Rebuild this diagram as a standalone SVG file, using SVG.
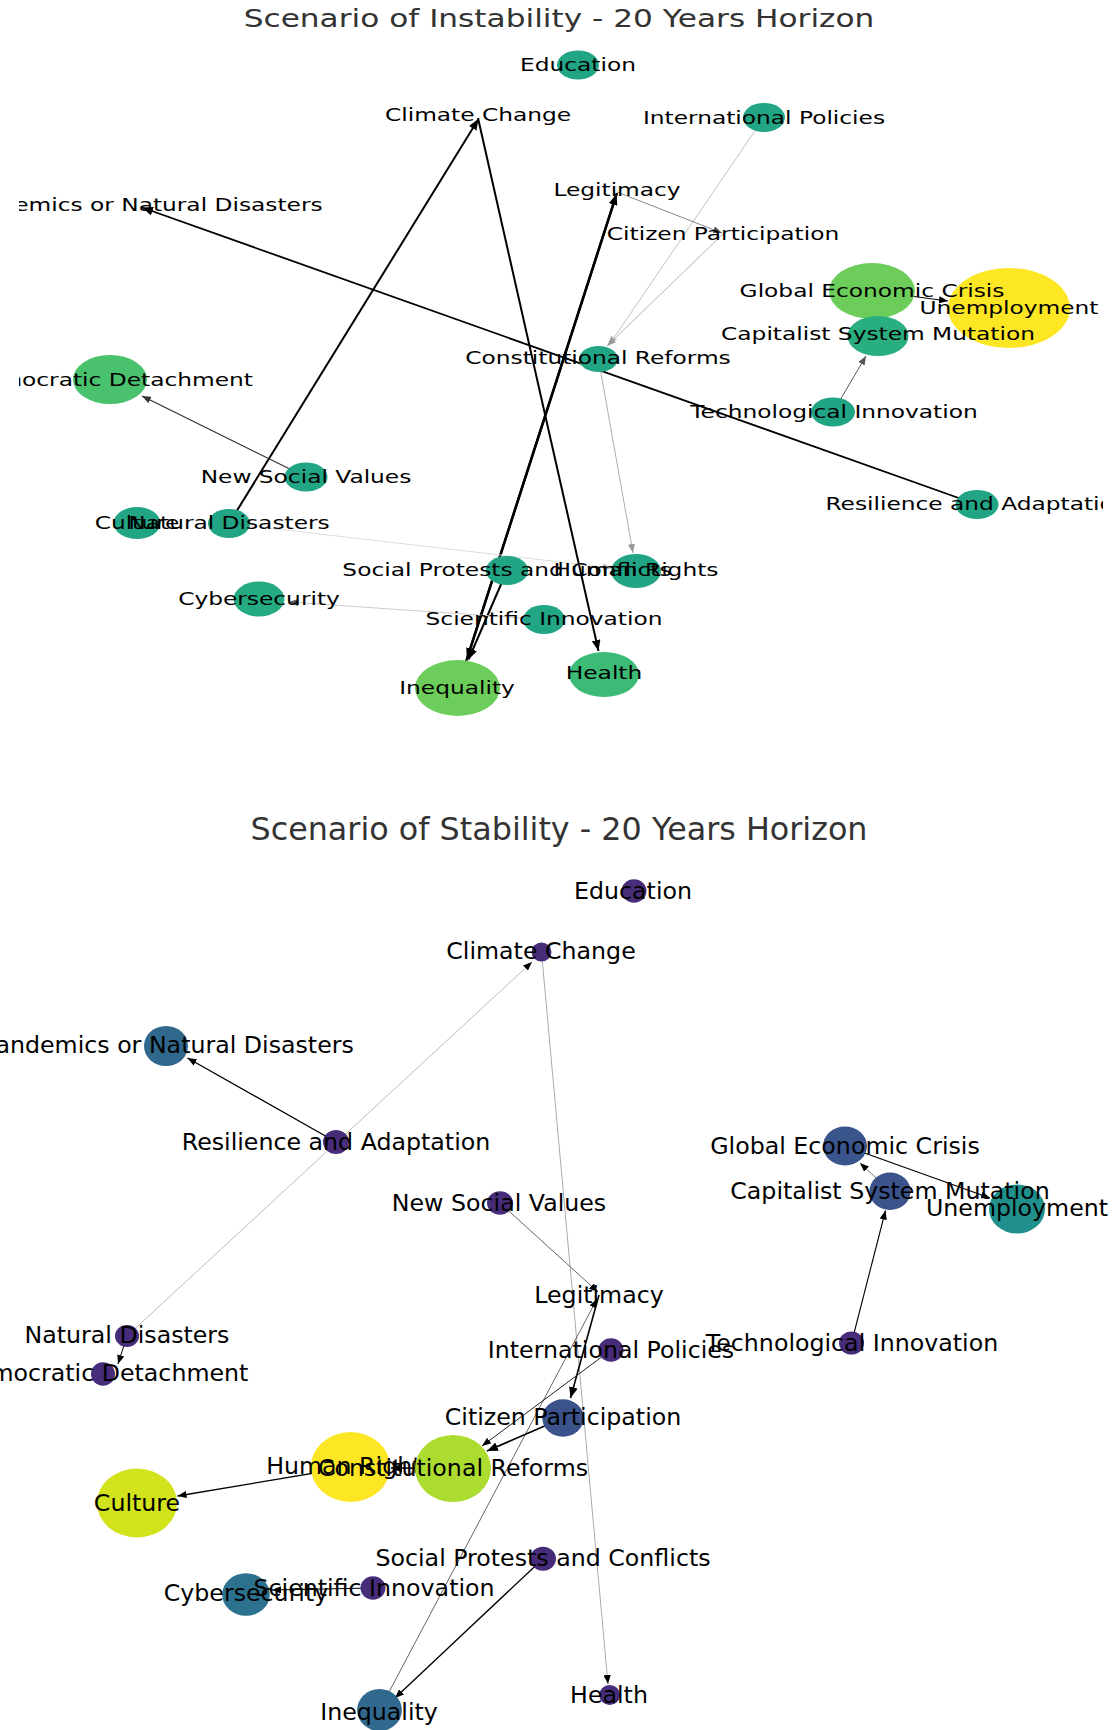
<svg xmlns="http://www.w3.org/2000/svg" width="1113" height="1730" viewBox="0 0 1113 1730">
<style>
.lt{font-family:"DejaVu Sans",Verdana,sans-serif;font-size:23.3px;fill:#000;text-anchor:middle}
.lb{font-family:"DejaVu Sans",Verdana,sans-serif;font-size:23.7px;fill:#000;text-anchor:middle}
.ttl{font-family:"DejaVu Sans",Verdana,sans-serif;fill:#333;text-anchor:middle}
.e{fill:none}
.k{stroke:#000}
.g2{stroke:#222}.g3{stroke:#333}.g5{stroke:#555}.g6{stroke:#666}.g7{stroke:#777}.g8{stroke:#888}.g9{stroke:#999}.ga{stroke:#aaa}.gb{stroke:#bbb}.gc{stroke:#ccc}.gd{stroke:#ddd}
.teal{fill:#21a585}
.pur{fill:#472c7a}
</style>
<defs>
<clipPath id="clipTop"><rect x="19" y="0" width="1084" height="760"/></clipPath>
<marker id="mk" viewBox="0 0 10 8" refX="10" refY="4" markerWidth="11" markerHeight="8.8" markerUnits="userSpaceOnUse" orient="auto"><path d="M0,0L10,4L0,8z" fill="#000"/></marker>
<marker id="mks" viewBox="0 0 10 8" refX="10" refY="4" markerWidth="9" markerHeight="7.2" markerUnits="userSpaceOnUse" orient="auto"><path d="M0,0L10,4L0,8z" fill="#000"/></marker>
<marker id="m3" viewBox="0 0 10 8" refX="10" refY="4" markerWidth="9" markerHeight="7.2" markerUnits="userSpaceOnUse" orient="auto"><path d="M0,0L10,4L0,8z" fill="#333"/></marker>
<marker id="m5" viewBox="0 0 10 8" refX="10" refY="4" markerWidth="9" markerHeight="7.2" markerUnits="userSpaceOnUse" orient="auto"><path d="M0,0L10,4L0,8z" fill="#555"/></marker>
<marker id="m7" viewBox="0 0 10 8" refX="10" refY="4" markerWidth="9" markerHeight="7.2" markerUnits="userSpaceOnUse" orient="auto"><path d="M0,0L10,4L0,8z" fill="#777"/></marker>
<marker id="m9" viewBox="0 0 10 8" refX="10" refY="4" markerWidth="9" markerHeight="7.2" markerUnits="userSpaceOnUse" orient="auto"><path d="M0,0L10,4L0,8z" fill="#999"/></marker>
<marker id="mb" viewBox="0 0 10 8" refX="10" refY="4" markerWidth="9" markerHeight="7.2" markerUnits="userSpaceOnUse" orient="auto"><path d="M0,0L10,4L0,8z" fill="#bbb"/></marker>
</defs>
<rect width="1113" height="1730" fill="#fff"/>

<!-- ============ TOP PANEL ============ -->
<text id="title-top" class="ttl" font-size="31.2" transform="translate(559,26.7) scale(1,0.78)">Scenario of Instability - 20 Years Horizon</text>
<g id="top-panel" clip-path="url(#clipTop)">
<g id="top-edges">
<line class="e k" stroke-width="2" x1="229" y1="523.5" x2="478.5" y2="119" marker-end="url(#mk)"/>
<line class="e k" stroke-width="2" x1="478" y1="118" x2="598.5" y2="651" marker-end="url(#mk)"/>
<line class="e k" stroke-width="1.8" x1="977" y1="504.5" x2="142" y2="207.5" marker-end="url(#mk)"/>
<line class="e k" stroke-width="2.4" x1="617" y1="193" x2="467" y2="659" marker-end="url(#mk)"/>
<line class="e k" stroke-width="2.4" x1="457.5" y1="688" x2="616.5" y2="194" marker-end="url(#mk)"/>
<line class="e k" stroke-width="2" x1="507" y1="570.5" x2="468.5" y2="659.5" marker-end="url(#mk)"/>
<line class="e g9" stroke-width="0.8" x1="598.5" y1="359" x2="633" y2="553" marker-end="url(#m9)"/>
<line class="e gb" stroke-width="0.9" x1="764" y1="117.5" x2="609" y2="345" marker-end="url(#mb)"/>
<line class="e ga" stroke-width="0.9" x1="723" y1="234" x2="607" y2="346" marker-end="url(#m9)"/>
<line class="e g8" stroke-width="1" x1="617" y1="192" x2="722" y2="233" marker-end="url(#m5)"/>
<line class="e g5" stroke-width="1" x1="833" y1="412" x2="866" y2="356" marker-end="url(#m5)"/>
<line class="e k" stroke-width="1" x1="872" y1="291" x2="948" y2="301" marker-end="url(#mks)"/>
<line class="e g3" stroke-width="1.2" x1="306" y1="477" x2="142" y2="396" marker-end="url(#m3)"/>
<line class="e gd" stroke-width="1" x1="229" y1="523.5" x2="612" y2="568" marker-end="url(#mb)"/>
<line class="e gc" stroke-width="1" x1="544" y1="619.5" x2="289" y2="602" marker-end="url(#m5)"/>
</g>
<g id="top-nodes">
<g id="t-education"><ellipse class="teal" cx="578" cy="65" rx="21" ry="14.5"/><text class="lt" transform="translate(578,65) scale(1,0.75)" dy="0.36em">Education</text></g>
<g id="t-international-policies"><ellipse class="teal" cx="764" cy="117.5" rx="21" ry="14.5"/><text class="lt" transform="translate(764,117.5) scale(1,0.75)" dy="0.36em">International Policies</text></g>
<g id="t-climate-change"><text class="lt" transform="translate(478,115) scale(1,0.75)" dy="0.36em">Climate Change</text></g>
<g id="t-legitimacy"><text class="lt" transform="translate(617,190) scale(1,0.75)" dy="0.36em">Legitimacy</text></g>
<g id="t-citizen-participation"><text class="lt" transform="translate(723,234) scale(1,0.75)" dy="0.36em">Citizen Participation</text></g>
<g id="t-pandemics"><text class="lt" transform="translate(140,205) scale(1,0.75)" dy="0.36em">Pandemics or Natural Disasters</text></g>
<g id="t-unemployment"><ellipse cx="1009" cy="308" rx="61" ry="40" fill="#fde725"/><text class="lt" transform="translate(1009,308) scale(1,0.75)" dy="0.36em">Unemployment</text></g>
<g id="t-global-economic-crisis"><ellipse cx="872" cy="291" rx="43" ry="28" fill="#6ccd5a"/><text class="lt" transform="translate(872,291) scale(1,0.75)" dy="0.36em">Global Economic Crisis</text></g>
<g id="t-capitalist-system-mutation"><ellipse cx="878" cy="336" rx="30.5" ry="20" fill="#29af7f"/><text class="lt" transform="translate(878,334) scale(1,0.75)" dy="0.36em">Capitalist System Mutation</text></g>
<g id="t-constitutional-reforms"><ellipse class="teal" cx="598.5" cy="359" rx="19.5" ry="13"/><text class="lt" transform="translate(598,358) scale(1,0.75)" dy="0.36em">Constitutional Reforms</text></g>
<g id="t-technological-innovation"><ellipse class="teal" cx="833" cy="412" rx="22" ry="14.5"/><text class="lt" transform="translate(834,412) scale(1,0.75)" dy="0.36em">Technological Innovation</text></g>
<g id="t-democratic-detachment"><ellipse cx="110" cy="379.5" rx="37" ry="24.5" fill="#4ac16d"/><text class="lt" transform="translate(110,379.5) scale(1,0.75)" dy="0.36em">Democratic Detachment</text></g>
<g id="t-new-social-values"><ellipse class="teal" cx="306" cy="477" rx="21.5" ry="14.5"/><text class="lt" transform="translate(306,477) scale(1,0.75)" dy="0.36em">New Social Values</text></g>
<g id="t-culture"><ellipse class="teal" cx="137" cy="523" rx="23.5" ry="16"/><text class="lt" transform="translate(137,523) scale(1,0.75)" dy="0.36em">Culture</text></g>
<g id="t-natural-disasters"><ellipse class="teal" cx="229" cy="523.5" rx="21" ry="14.5"/><text class="lt" transform="translate(229,523) scale(1,0.75)" dy="0.36em">Natural Disasters</text></g>
<g id="t-human-rights"><ellipse class="teal" cx="636" cy="571" rx="25" ry="17"/><text class="lt" transform="translate(636,570) scale(1,0.75)" dy="0.36em">Human Rights</text></g>
<g id="t-social-protests"><ellipse class="teal" cx="507" cy="570.5" rx="21.3" ry="14.5"/><text class="lt" transform="translate(507,570) scale(1,0.75)" dy="0.36em">Social Protests and Conflicts</text></g>
<g id="t-cybersecurity"><ellipse cx="259" cy="599" rx="25.4" ry="17.5" fill="#25ab82"/><text class="lt" transform="translate(259,598.5) scale(1,0.75)" dy="0.36em">Cybersecurity</text></g>
<g id="t-scientific-innovation"><ellipse class="teal" cx="544" cy="619.5" rx="21" ry="14.5"/><text class="lt" transform="translate(544,618.5) scale(1,0.75)" dy="0.36em">Scientific Innovation</text></g>
<g id="t-inequality"><ellipse cx="457.5" cy="688" rx="42.5" ry="28" fill="#6ccd5a"/><text class="lt" transform="translate(457,687.5) scale(1,0.75)" dy="0.36em">Inequality</text></g>
<g id="t-health"><ellipse cx="604" cy="674.5" rx="35" ry="22.5" fill="#3bbb75"/><text class="lt" transform="translate(604,673) scale(1,0.75)" dy="0.36em">Health</text></g>
<g id="t-resilience"><ellipse class="teal" cx="977" cy="504.5" rx="21.5" ry="14.5"/><text class="lt" transform="translate(977,504) scale(1,0.75)" dy="0.36em">Resilience and Adaptation</text></g>
</g>
</g>

<!-- ============ BOTTOM PANEL ============ -->
<text id="title-bottom" class="ttl" font-size="31.8" x="559" y="840">Scenario of Stability - 20 Years Horizon</text>
<g id="bottom-panel">
<g id="bottom-edges">
<line class="e k" stroke-width="1.3" x1="336" y1="1142" x2="187.5" y2="1058" marker-end="url(#mks)"/>
<line class="e gb" stroke-width="1" x1="127" y1="1336" x2="532" y2="962" marker-end="url(#mks)"/>
<line class="e ga" stroke-width="1" x1="541.5" y1="952" x2="608" y2="1684" marker-end="url(#mks)"/>
<line class="e g6" stroke-width="1" x1="500" y1="1203" x2="598" y2="1292" marker-end="url(#mks)"/>
<line class="e k" stroke-width="1.6" x1="599" y1="1295" x2="570.5" y2="1398" marker-end="url(#mk)"/>
<line class="e g5" stroke-width="0.9" x1="379.5" y1="1710" x2="597" y2="1299" marker-end="url(#mks)"/>
<line class="e g2" stroke-width="1" x1="611" y1="1350" x2="482" y2="1446" marker-end="url(#mks)"/>
<line class="e k" stroke-width="1.8" x1="563" y1="1418" x2="487" y2="1451" marker-end="url(#mk)"/>
<line class="e k" stroke-width="1.5" x1="453" y1="1468.5" x2="391" y2="1468" marker-end="url(#mk)"/>
<line class="e k" stroke-width="1.3" x1="350.5" y1="1467" x2="177.5" y2="1496" marker-end="url(#mks)"/>
<line class="e k" stroke-width="1.3" x1="543" y1="1558.7" x2="395" y2="1698" marker-end="url(#mks)"/>
<line class="e k" stroke-width="1.2" x1="373" y1="1588" x2="272" y2="1590" marker-end="url(#mks)"/>
<line class="e k" stroke-width="1" x1="127" y1="1336" x2="118" y2="1364" marker-end="url(#mks)"/>
<line class="e g7" stroke-width="1" x1="890" y1="1191" x2="860" y2="1163" marker-end="url(#mks)"/>
<line class="e k" stroke-width="1.2" x1="845" y1="1146" x2="990" y2="1198" marker-end="url(#mks)"/>
<line class="e k" stroke-width="1.1" x1="851.5" y1="1343" x2="885.5" y2="1210.5" marker-end="url(#mks)"/>
</g>
<g id="bottom-nodes">
<g id="b-education"><ellipse class="pur" cx="634" cy="891" rx="12.5" ry="11.7"/><text class="lb" transform="translate(633,890.5) scale(1,0.95)" dy="0.36em">Education</text></g>
<g id="b-climate-change"><ellipse class="pur" cx="541.5" cy="952" rx="10" ry="9.5"/><text class="lb" transform="translate(541,951) scale(1,0.95)" dy="0.36em">Climate Change</text></g>
<g id="b-pandemics"><ellipse cx="166" cy="1046" rx="22" ry="20" fill="#30678d"/><text class="lb" transform="translate(168,1044.5) scale(1,0.95)" dy="0.36em">Pandemics or Natural Disasters</text></g>
<g id="b-resilience"><ellipse class="pur" cx="336" cy="1142" rx="13" ry="12"/><text class="lb" transform="translate(336,1142) scale(1,0.95)" dy="0.36em">Resilience and Adaptation</text></g>
<g id="b-unemployment"><ellipse cx="1017" cy="1209" rx="28" ry="24.5" fill="#21908d"/><text class="lb" transform="translate(1017,1208) scale(1,0.95)" dy="0.36em">Unemployment</text></g>
<g id="b-global-economic-crisis"><ellipse cx="845" cy="1146" rx="22" ry="19.5" fill="#3a548c"/><text class="lb" transform="translate(845,1145.5) scale(1,0.95)" dy="0.36em">Global Economic Crisis</text></g>
<g id="b-capitalist-system-mutation"><ellipse cx="890" cy="1191.3" rx="20.6" ry="18.7" fill="#3b528b"/><text class="lb" transform="translate(890,1190.5) scale(1,0.95)" dy="0.36em">Capitalist System Mutation</text></g>
<g id="b-new-social-values"><ellipse class="pur" cx="500" cy="1203" rx="13" ry="11.7"/><text class="lb" transform="translate(499,1202.5) scale(1,0.95)" dy="0.36em">New Social Values</text></g>
<g id="b-legitimacy"><text class="lb" transform="translate(599,1294.5) scale(1,0.95)" dy="0.36em">Legitimacy</text></g>
<g id="b-natural-disasters"><ellipse class="pur" cx="127" cy="1336" rx="12" ry="11"/><text class="lb" transform="translate(127,1335) scale(1,0.95)" dy="0.36em">Natural Disasters</text></g>
<g id="b-international-policies"><ellipse class="pur" cx="611" cy="1350" rx="12.5" ry="11.7"/><text class="lb" transform="translate(611,1349.5) scale(1,0.95)" dy="0.36em">International Policies</text></g>
<g id="b-technological-innovation"><ellipse class="pur" cx="851.5" cy="1343" rx="12.5" ry="11.5"/><text class="lb" transform="translate(852,1342.5) scale(1,0.95)" dy="0.36em">Technological Innovation</text></g>
<g id="b-democratic-detachment"><ellipse class="pur" cx="103" cy="1374" rx="12" ry="11.7"/><text class="lb" transform="translate(103,1373) scale(1,0.95)" dy="0.36em">Democratic Detachment</text></g>
<g id="b-citizen-participation"><ellipse cx="563" cy="1418" rx="20.7" ry="18.7" fill="#3b528b"/><text class="lb" transform="translate(563,1417) scale(1,0.95)" dy="0.36em">Citizen Participation</text></g>
<g id="b-human-rights"><ellipse cx="350.5" cy="1467" rx="39.6" ry="35" fill="#fde725"/><text class="lb" transform="translate(350,1466) scale(1,0.95)" dy="0.36em">Human Rights</text></g>
<g id="b-constitutional-reforms"><ellipse cx="453" cy="1468.5" rx="38" ry="33.5" fill="#addc30"/><text class="lb" transform="translate(453,1467.5) scale(1,0.95)" dy="0.36em">Constitutional Reforms</text></g>
<g id="b-culture"><ellipse cx="137" cy="1503" rx="40" ry="34.5" fill="#d2e21b"/><text class="lb" transform="translate(137,1502.5) scale(1,0.95)" dy="0.36em">Culture</text></g>
<g id="b-social-protests"><ellipse class="pur" cx="543" cy="1558.7" rx="13" ry="12"/><text class="lb" transform="translate(543,1558) scale(1,0.95)" dy="0.36em">Social Protests and Conflicts</text></g>
<g id="b-cybersecurity"><ellipse cx="246" cy="1594.5" rx="23.8" ry="21.3" fill="#2c718e"/><text class="lb" transform="translate(246,1593) scale(1,0.95)" dy="0.36em">Cybersecurity</text></g>
<g id="b-scientific-innovation"><ellipse class="pur" cx="373" cy="1588" rx="12.5" ry="11.7"/><text class="lb" transform="translate(374,1587.5) scale(1,0.95)" dy="0.36em">Scientific Innovation</text></g>
<g id="b-inequality"><ellipse cx="379.5" cy="1710" rx="22.4" ry="21" fill="#31688e"/><text class="lb" transform="translate(379,1712) scale(1,0.95)" dy="0.36em">Inequality</text></g>
<g id="b-health"><ellipse class="pur" cx="609.7" cy="1695" rx="10.5" ry="10"/><text class="lb" transform="translate(609,1695) scale(1,0.95)" dy="0.36em">Health</text></g>
</g>
</g>
</svg>
